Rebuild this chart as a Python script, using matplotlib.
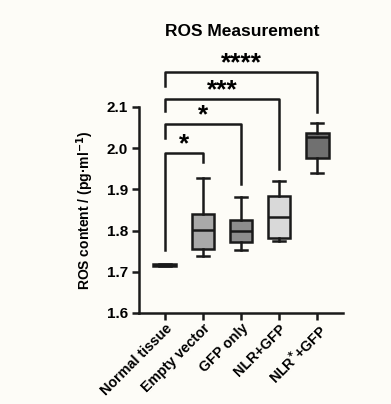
import matplotlib
matplotlib.use("Agg")
import matplotlib.pyplot as plt

categories = ["Normal tissue", "Empty vector", "GFP only", "NLR+GFP", "NLR$^{*}$+GFP"]
whislo = [1.713, 1.739, 1.753, 1.775, 1.941]
q1 = [1.714, 1.755, 1.772, 1.783, 1.977]
med = [1.716, 1.801, 1.800, 1.832, 2.028]
q3 = [1.719, 1.840, 1.826, 1.884, 2.038]
whishi = [1.720, 1.928, 1.881, 1.921, 2.060]
box_colors = ["#9a9a9a", "#a9a9a9", "#8d8d8d", "#d9d9d9", "#707070"]
yticks = [1.6, 1.7, 1.8, 1.9, 2.0, 2.1]

# significance brackets: (group a, group b, left leg bottom, top, right leg bottom, label, label y)
brackets = [
    (0, 1, 1.753, 1.988, 1.967, "*", 2.010),
    (0, 2, 2.025, 2.058, 1.913, "*", 2.080),
    (0, 3, 2.091, 2.119, 1.949, "***", 2.141),
    (0, 4, 2.152, 2.184, 2.088, "****", 2.206),
]

plt.rcParams['font.family'] = ['Liberation Sans', 'DejaVu Sans']
plt.rcParams['font.weight'] = 'bold'
bg = "#fdfcf7"
fig = plt.figure(figsize=(3.91, 4.04), dpi=100, facecolor=bg)
ax = fig.add_axes([139/391, 1 - 313/404, (343-139)/391, (313-107)/404])
ax.set_facecolor(bg)

stats = []
for i in range(len(categories)):
    stats.append(dict(whislo=whislo[i], q1=q1[i], med=med[i], q3=q3[i], whishi=whishi[i], fliers=[]))
lw = 1.8
bp = ax.bxp(stats, positions=range(len(categories)), widths=0.6, patch_artist=True,
            boxprops=dict(linewidth=lw, edgecolor="#1a1a1a"),
            medianprops=dict(color="#1a1a1a", linewidth=lw),
            whiskerprops=dict(color="#1a1a1a", linewidth=lw),
            capprops=dict(color="#1a1a1a", linewidth=lw), capwidths=0.3)
for patch, c in zip(bp['boxes'], box_colors):
    patch.set_facecolor(c)

ax.set_xlim(-0.68, 4.68)
ax.set_ylim(1.6, 2.1)
ax.set_yticks(yticks)
ax.set_yticklabels([f"{t:.1f}" for t in yticks], fontsize=11, fontweight='bold')
ax.set_xticks(range(len(categories)))
ax.set_xticklabels(categories, rotation=45, ha='right', rotation_mode='anchor', fontsize=10.3, fontweight='bold')
ax.tick_params(axis='x', pad=1)
for s in ['top', 'right']:
    ax.spines[s].set_visible(False)
for s in ['left', 'bottom']:
    ax.spines[s].set_linewidth(1.8)
    ax.spines[s].set_color("#1a1a1a")
ax.tick_params(width=1.8, length=5, color="#1a1a1a")
ax.tick_params(axis='y', pad=3)
ax.set_ylabel("ROS content / (pg·ml$^{\\mathbf{-1}}$)", fontsize=10, fontweight='bold', labelpad=8)

for a, b, yl, yt, yr, lab, ly in brackets:
    ax.plot([a, a, b, b], [yl, yt, yt, yr], color="#1a1a1a", lw=1.8, clip_on=False)
    ax.text((a + b) / 2, ly, lab, ha='center', va='center', fontsize=19, fontweight='bold', clip_on=False)

fig.text(242/391, 1 - 32/404, "ROS Measurement", ha='center', va='center', fontsize=12.5, fontweight='bold')
fig.savefig("out.png", dpi=100, facecolor=bg)
